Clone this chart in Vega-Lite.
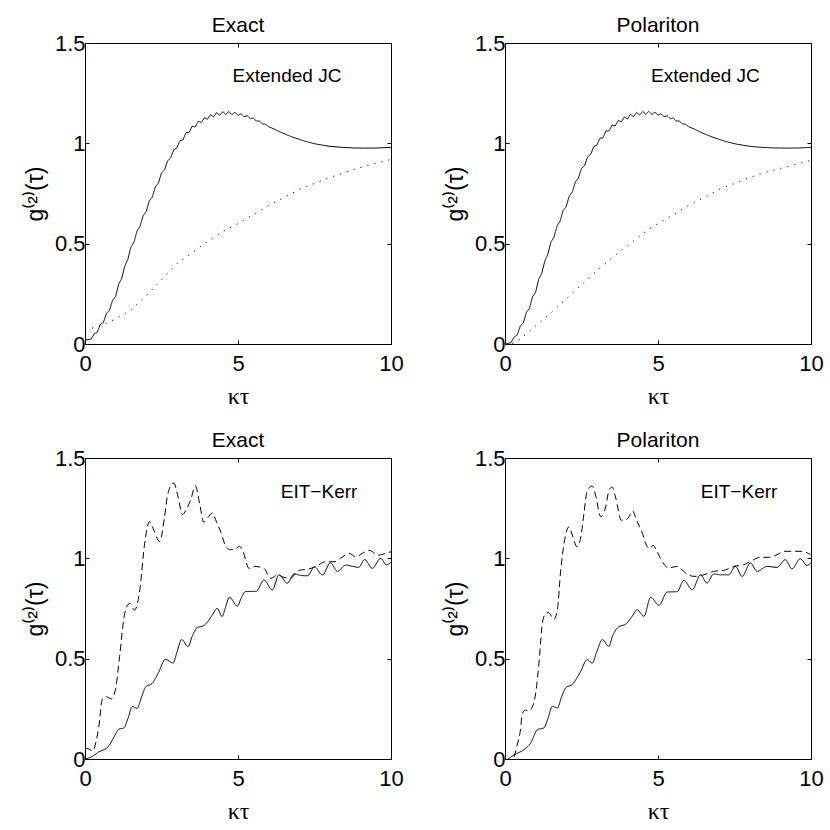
{
  "$schema": "https://vega.github.io/schema/vega-lite/v6.json",
  "padding": {"left": 23, "top": 14, "right": 8, "bottom": 4},
  "background": "white",
  "bounds": "flush",
  "columns": 2,
  "spacing": 114,
  "datasets": {
    "notes": [
      {"panel": "TL", "t": 6.6, "g": 1.335, "label": "Extended JC"},
      {"panel": "TR", "t": 6.55, "g": 1.335, "label": "Extended JC"},
      {"panel": "BL", "t": 7.65, "g": 1.33, "label": "EIT−Kerr"},
      {"panel": "BR", "t": 7.65, "g": 1.33, "label": "EIT−Kerr"}
    ],
    "curves": [
      {"panel": "TL", "series": "solid", "t": 0, "g": 0.02},
      {"panel": "TL", "series": "solid", "t": 0.1, "g": 0.022},
      {"panel": "TL", "series": "solid", "t": 0.2, "g": 0.024},
      {"panel": "TL", "series": "solid", "t": 0.3, "g": 0.051},
      {"panel": "TL", "series": "solid", "t": 0.4, "g": 0.058},
      {"panel": "TL", "series": "solid", "t": 0.5, "g": 0.098},
      {"panel": "TL", "series": "solid", "t": 0.6, "g": 0.107},
      {"panel": "TL", "series": "solid", "t": 0.7, "g": 0.153},
      {"panel": "TL", "series": "solid", "t": 0.8, "g": 0.167},
      {"panel": "TL", "series": "solid", "t": 0.9, "g": 0.218},
      {"panel": "TL", "series": "solid", "t": 1.0, "g": 0.237},
      {"panel": "TL", "series": "solid", "t": 1.1, "g": 0.298},
      {"panel": "TL", "series": "solid", "t": 1.2, "g": 0.327},
      {"panel": "TL", "series": "solid", "t": 1.3, "g": 0.388},
      {"panel": "TL", "series": "solid", "t": 1.4, "g": 0.422},
      {"panel": "TL", "series": "solid", "t": 1.5, "g": 0.483},
      {"panel": "TL", "series": "solid", "t": 1.6, "g": 0.507},
      {"panel": "TL", "series": "solid", "t": 1.7, "g": 0.563},
      {"panel": "TL", "series": "solid", "t": 1.8, "g": 0.587},
      {"panel": "TL", "series": "solid", "t": 1.9, "g": 0.64},
      {"panel": "TL", "series": "solid", "t": 2.0, "g": 0.66},
      {"panel": "TL", "series": "solid", "t": 2.1, "g": 0.713},
      {"panel": "TL", "series": "solid", "t": 2.2, "g": 0.732},
      {"panel": "TL", "series": "solid", "t": 2.3, "g": 0.783},
      {"panel": "TL", "series": "solid", "t": 2.4, "g": 0.802},
      {"panel": "TL", "series": "solid", "t": 2.5, "g": 0.853},
      {"panel": "TL", "series": "solid", "t": 2.6, "g": 0.867},
      {"panel": "TL", "series": "solid", "t": 2.7, "g": 0.913},
      {"panel": "TL", "series": "solid", "t": 2.8, "g": 0.927},
      {"panel": "TL", "series": "solid", "t": 2.9, "g": 0.968},
      {"panel": "TL", "series": "solid", "t": 3.0, "g": 0.977},
      {"panel": "TL", "series": "solid", "t": 3.1, "g": 1.013},
      {"panel": "TL", "series": "solid", "t": 3.2, "g": 1.017},
      {"panel": "TL", "series": "solid", "t": 3.3, "g": 1.053},
      {"panel": "TL", "series": "solid", "t": 3.4, "g": 1.054},
      {"panel": "TL", "series": "solid", "t": 3.5, "g": 1.085},
      {"panel": "TL", "series": "solid", "t": 3.6, "g": 1.082},
      {"panel": "TL", "series": "solid", "t": 3.7, "g": 1.11},
      {"panel": "TL", "series": "solid", "t": 3.8, "g": 1.104},
      {"panel": "TL", "series": "solid", "t": 3.9, "g": 1.128},
      {"panel": "TL", "series": "solid", "t": 4.0, "g": 1.12},
      {"panel": "TL", "series": "solid", "t": 4.1, "g": 1.143},
      {"panel": "TL", "series": "solid", "t": 4.2, "g": 1.132},
      {"panel": "TL", "series": "solid", "t": 4.3, "g": 1.153},
      {"panel": "TL", "series": "solid", "t": 4.4, "g": 1.14},
      {"panel": "TL", "series": "solid", "t": 4.5, "g": 1.158},
      {"panel": "TL", "series": "solid", "t": 4.6, "g": 1.144},
      {"panel": "TL", "series": "solid", "t": 4.7, "g": 1.158},
      {"panel": "TL", "series": "solid", "t": 4.8, "g": 1.143},
      {"panel": "TL", "series": "solid", "t": 4.9, "g": 1.155},
      {"panel": "TL", "series": "solid", "t": 5.0, "g": 1.139},
      {"panel": "TL", "series": "solid", "t": 5.1, "g": 1.148},
      {"panel": "TL", "series": "solid", "t": 5.2, "g": 1.132},
      {"panel": "TL", "series": "solid", "t": 5.3, "g": 1.138},
      {"panel": "TL", "series": "solid", "t": 5.4, "g": 1.123},
      {"panel": "TL", "series": "solid", "t": 5.5, "g": 1.126},
      {"panel": "TL", "series": "solid", "t": 5.6, "g": 1.111},
      {"panel": "TL", "series": "solid", "t": 5.7, "g": 1.111},
      {"panel": "TL", "series": "solid", "t": 5.8, "g": 1.097},
      {"panel": "TL", "series": "solid", "t": 5.9, "g": 1.095},
      {"panel": "TL", "series": "solid", "t": 6.0, "g": 1.083},
      {"panel": "TL", "series": "solid", "t": 6.2, "g": 1.07},
      {"panel": "TL", "series": "solid", "t": 6.4, "g": 1.055},
      {"panel": "TL", "series": "solid", "t": 6.6, "g": 1.042},
      {"panel": "TL", "series": "solid", "t": 6.8, "g": 1.03},
      {"panel": "TL", "series": "solid", "t": 7.0, "g": 1.02},
      {"panel": "TL", "series": "solid", "t": 7.2, "g": 1.01},
      {"panel": "TL", "series": "solid", "t": 7.4, "g": 1.002},
      {"panel": "TL", "series": "solid", "t": 7.6, "g": 0.995},
      {"panel": "TL", "series": "solid", "t": 7.8, "g": 0.99},
      {"panel": "TL", "series": "solid", "t": 8.0, "g": 0.985},
      {"panel": "TL", "series": "solid", "t": 8.4, "g": 0.98},
      {"panel": "TL", "series": "solid", "t": 8.8, "g": 0.977},
      {"panel": "TL", "series": "solid", "t": 9.2, "g": 0.976},
      {"panel": "TL", "series": "solid", "t": 9.6, "g": 0.977},
      {"panel": "TL", "series": "solid", "t": 10, "g": 0.98},
      {"panel": "TL", "series": "dotted", "t": 0, "g": 0.07},
      {"panel": "TL", "series": "dotted", "t": 0.5, "g": 0.09},
      {"panel": "TL", "series": "dotted", "t": 1.0, "g": 0.125},
      {"panel": "TL", "series": "dotted", "t": 1.5, "g": 0.17},
      {"panel": "TL", "series": "dotted", "t": 2.0, "g": 0.24},
      {"panel": "TL", "series": "dotted", "t": 2.5, "g": 0.32},
      {"panel": "TL", "series": "dotted", "t": 3.0, "g": 0.4},
      {"panel": "TL", "series": "dotted", "t": 3.5, "g": 0.455},
      {"panel": "TL", "series": "dotted", "t": 4.0, "g": 0.51},
      {"panel": "TL", "series": "dotted", "t": 4.5, "g": 0.56},
      {"panel": "TL", "series": "dotted", "t": 5.0, "g": 0.6},
      {"panel": "TL", "series": "dotted", "t": 5.5, "g": 0.645},
      {"panel": "TL", "series": "dotted", "t": 6.0, "g": 0.69},
      {"panel": "TL", "series": "dotted", "t": 6.5, "g": 0.73},
      {"panel": "TL", "series": "dotted", "t": 7.0, "g": 0.77},
      {"panel": "TL", "series": "dotted", "t": 7.5, "g": 0.8},
      {"panel": "TL", "series": "dotted", "t": 8.0, "g": 0.83},
      {"panel": "TL", "series": "dotted", "t": 8.5, "g": 0.855},
      {"panel": "TL", "series": "dotted", "t": 9.0, "g": 0.88},
      {"panel": "TL", "series": "dotted", "t": 9.5, "g": 0.9},
      {"panel": "TL", "series": "dotted", "t": 10, "g": 0.92},
      {"panel": "TR", "series": "solid", "t": 0, "g": 0.0},
      {"panel": "TR", "series": "solid", "t": 0.1, "g": 0.002},
      {"panel": "TR", "series": "solid", "t": 0.2, "g": 0.008},
      {"panel": "TR", "series": "solid", "t": 0.3, "g": 0.035},
      {"panel": "TR", "series": "solid", "t": 0.4, "g": 0.045},
      {"panel": "TR", "series": "solid", "t": 0.5, "g": 0.09},
      {"panel": "TR", "series": "solid", "t": 0.6, "g": 0.105},
      {"panel": "TR", "series": "solid", "t": 0.7, "g": 0.158},
      {"panel": "TR", "series": "solid", "t": 0.8, "g": 0.178},
      {"panel": "TR", "series": "solid", "t": 0.9, "g": 0.235},
      {"panel": "TR", "series": "solid", "t": 1.0, "g": 0.258},
      {"panel": "TR", "series": "solid", "t": 1.1, "g": 0.322},
      {"panel": "TR", "series": "solid", "t": 1.2, "g": 0.352},
      {"panel": "TR", "series": "solid", "t": 1.3, "g": 0.413},
      {"panel": "TR", "series": "solid", "t": 1.4, "g": 0.447},
      {"panel": "TR", "series": "solid", "t": 1.5, "g": 0.508},
      {"panel": "TR", "series": "solid", "t": 1.6, "g": 0.532},
      {"panel": "TR", "series": "solid", "t": 1.7, "g": 0.588},
      {"panel": "TR", "series": "solid", "t": 1.8, "g": 0.612},
      {"panel": "TR", "series": "solid", "t": 1.9, "g": 0.665},
      {"panel": "TR", "series": "solid", "t": 2.0, "g": 0.685},
      {"panel": "TR", "series": "solid", "t": 2.1, "g": 0.738},
      {"panel": "TR", "series": "solid", "t": 2.2, "g": 0.757},
      {"panel": "TR", "series": "solid", "t": 2.3, "g": 0.808},
      {"panel": "TR", "series": "solid", "t": 2.4, "g": 0.827},
      {"panel": "TR", "series": "solid", "t": 2.5, "g": 0.875},
      {"panel": "TR", "series": "solid", "t": 2.6, "g": 0.889},
      {"panel": "TR", "series": "solid", "t": 2.7, "g": 0.933},
      {"panel": "TR", "series": "solid", "t": 2.8, "g": 0.945},
      {"panel": "TR", "series": "solid", "t": 2.9, "g": 0.984},
      {"panel": "TR", "series": "solid", "t": 3.0, "g": 0.991},
      {"panel": "TR", "series": "solid", "t": 3.1, "g": 1.025},
      {"panel": "TR", "series": "solid", "t": 3.2, "g": 1.028},
      {"panel": "TR", "series": "solid", "t": 3.3, "g": 1.062},
      {"panel": "TR", "series": "solid", "t": 3.4, "g": 1.062},
      {"panel": "TR", "series": "solid", "t": 3.5, "g": 1.091},
      {"panel": "TR", "series": "solid", "t": 3.6, "g": 1.087},
      {"panel": "TR", "series": "solid", "t": 3.7, "g": 1.114},
      {"panel": "TR", "series": "solid", "t": 3.8, "g": 1.107},
      {"panel": "TR", "series": "solid", "t": 3.9, "g": 1.131},
      {"panel": "TR", "series": "solid", "t": 4.0, "g": 1.122},
      {"panel": "TR", "series": "solid", "t": 4.1, "g": 1.145},
      {"panel": "TR", "series": "solid", "t": 4.2, "g": 1.133},
      {"panel": "TR", "series": "solid", "t": 4.3, "g": 1.154},
      {"panel": "TR", "series": "solid", "t": 4.4, "g": 1.141},
      {"panel": "TR", "series": "solid", "t": 4.5, "g": 1.159},
      {"panel": "TR", "series": "solid", "t": 4.6, "g": 1.145},
      {"panel": "TR", "series": "solid", "t": 4.7, "g": 1.159},
      {"panel": "TR", "series": "solid", "t": 4.8, "g": 1.144},
      {"panel": "TR", "series": "solid", "t": 4.9, "g": 1.156},
      {"panel": "TR", "series": "solid", "t": 5.0, "g": 1.14},
      {"panel": "TR", "series": "solid", "t": 5.1, "g": 1.148},
      {"panel": "TR", "series": "solid", "t": 5.2, "g": 1.132},
      {"panel": "TR", "series": "solid", "t": 5.3, "g": 1.138},
      {"panel": "TR", "series": "solid", "t": 5.4, "g": 1.123},
      {"panel": "TR", "series": "solid", "t": 5.5, "g": 1.126},
      {"panel": "TR", "series": "solid", "t": 5.6, "g": 1.111},
      {"panel": "TR", "series": "solid", "t": 5.7, "g": 1.111},
      {"panel": "TR", "series": "solid", "t": 5.8, "g": 1.097},
      {"panel": "TR", "series": "solid", "t": 5.9, "g": 1.095},
      {"panel": "TR", "series": "solid", "t": 6.0, "g": 1.083},
      {"panel": "TR", "series": "solid", "t": 6.2, "g": 1.07},
      {"panel": "TR", "series": "solid", "t": 6.4, "g": 1.055},
      {"panel": "TR", "series": "solid", "t": 6.6, "g": 1.042},
      {"panel": "TR", "series": "solid", "t": 6.8, "g": 1.03},
      {"panel": "TR", "series": "solid", "t": 7.0, "g": 1.02},
      {"panel": "TR", "series": "solid", "t": 7.2, "g": 1.01},
      {"panel": "TR", "series": "solid", "t": 7.4, "g": 1.002},
      {"panel": "TR", "series": "solid", "t": 7.6, "g": 0.995},
      {"panel": "TR", "series": "solid", "t": 7.8, "g": 0.99},
      {"panel": "TR", "series": "solid", "t": 8.0, "g": 0.985},
      {"panel": "TR", "series": "solid", "t": 8.4, "g": 0.98},
      {"panel": "TR", "series": "solid", "t": 8.8, "g": 0.977},
      {"panel": "TR", "series": "solid", "t": 9.2, "g": 0.976},
      {"panel": "TR", "series": "solid", "t": 9.6, "g": 0.977},
      {"panel": "TR", "series": "solid", "t": 10, "g": 0.98},
      {"panel": "TR", "series": "dotted", "t": 0, "g": 0.0},
      {"panel": "TR", "series": "dotted", "t": 0.3, "g": 0.005},
      {"panel": "TR", "series": "dotted", "t": 0.5, "g": 0.025},
      {"panel": "TR", "series": "dotted", "t": 1.0, "g": 0.09},
      {"panel": "TR", "series": "dotted", "t": 1.5, "g": 0.155},
      {"panel": "TR", "series": "dotted", "t": 2.0, "g": 0.225},
      {"panel": "TR", "series": "dotted", "t": 2.5, "g": 0.295},
      {"panel": "TR", "series": "dotted", "t": 3.0, "g": 0.365},
      {"panel": "TR", "series": "dotted", "t": 3.5, "g": 0.43},
      {"panel": "TR", "series": "dotted", "t": 4.0, "g": 0.49},
      {"panel": "TR", "series": "dotted", "t": 4.5, "g": 0.55},
      {"panel": "TR", "series": "dotted", "t": 5.0, "g": 0.6},
      {"panel": "TR", "series": "dotted", "t": 5.5, "g": 0.645},
      {"panel": "TR", "series": "dotted", "t": 6.0, "g": 0.69},
      {"panel": "TR", "series": "dotted", "t": 6.5, "g": 0.73},
      {"panel": "TR", "series": "dotted", "t": 7.0, "g": 0.77},
      {"panel": "TR", "series": "dotted", "t": 7.5, "g": 0.8},
      {"panel": "TR", "series": "dotted", "t": 8.0, "g": 0.83},
      {"panel": "TR", "series": "dotted", "t": 8.5, "g": 0.855},
      {"panel": "TR", "series": "dotted", "t": 9.0, "g": 0.875},
      {"panel": "TR", "series": "dotted", "t": 9.5, "g": 0.895},
      {"panel": "TR", "series": "dotted", "t": 10, "g": 0.915},
      {"panel": "BL", "series": "solid", "t": 0, "g": 0.0},
      {"panel": "BL", "series": "solid", "t": 0.2, "g": 0.01},
      {"panel": "BL", "series": "solid", "t": 0.45, "g": 0.035},
      {"panel": "BL", "series": "solid", "t": 0.75, "g": 0.06},
      {"panel": "BL", "series": "solid", "t": 0.95, "g": 0.11},
      {"panel": "BL", "series": "solid", "t": 1.1, "g": 0.148},
      {"panel": "BL", "series": "solid", "t": 1.27, "g": 0.155},
      {"panel": "BL", "series": "solid", "t": 1.4, "g": 0.2},
      {"panel": "BL", "series": "solid", "t": 1.55, "g": 0.262},
      {"panel": "BL", "series": "solid", "t": 1.7, "g": 0.252},
      {"panel": "BL", "series": "solid", "t": 1.85, "g": 0.31},
      {"panel": "BL", "series": "solid", "t": 1.98, "g": 0.358},
      {"panel": "BL", "series": "solid", "t": 2.2, "g": 0.378},
      {"panel": "BL", "series": "solid", "t": 2.4, "g": 0.43},
      {"panel": "BL", "series": "solid", "t": 2.63, "g": 0.497},
      {"panel": "BL", "series": "solid", "t": 2.88, "g": 0.478},
      {"panel": "BL", "series": "solid", "t": 3.0, "g": 0.53},
      {"panel": "BL", "series": "solid", "t": 3.16, "g": 0.595},
      {"panel": "BL", "series": "solid", "t": 3.37, "g": 0.56},
      {"panel": "BL", "series": "solid", "t": 3.5, "g": 0.61},
      {"panel": "BL", "series": "solid", "t": 3.67, "g": 0.655},
      {"panel": "BL", "series": "solid", "t": 3.85, "g": 0.662},
      {"panel": "BL", "series": "solid", "t": 4.0, "g": 0.682},
      {"panel": "BL", "series": "solid", "t": 4.15, "g": 0.715},
      {"panel": "BL", "series": "solid", "t": 4.32, "g": 0.75},
      {"panel": "BL", "series": "solid", "t": 4.48, "g": 0.71},
      {"panel": "BL", "series": "solid", "t": 4.6, "g": 0.76},
      {"panel": "BL", "series": "solid", "t": 4.72, "g": 0.806},
      {"panel": "BL", "series": "solid", "t": 4.98, "g": 0.762},
      {"panel": "BL", "series": "solid", "t": 5.1, "g": 0.8},
      {"panel": "BL", "series": "solid", "t": 5.24, "g": 0.834},
      {"panel": "BL", "series": "solid", "t": 5.4, "g": 0.835},
      {"panel": "BL", "series": "solid", "t": 5.6, "g": 0.836},
      {"panel": "BL", "series": "solid", "t": 5.85, "g": 0.892},
      {"panel": "BL", "series": "solid", "t": 6.12, "g": 0.843},
      {"panel": "BL", "series": "solid", "t": 6.34, "g": 0.918},
      {"panel": "BL", "series": "solid", "t": 6.61, "g": 0.876},
      {"panel": "BL", "series": "solid", "t": 6.83, "g": 0.922},
      {"panel": "BL", "series": "solid", "t": 7.05, "g": 0.915},
      {"panel": "BL", "series": "solid", "t": 7.27, "g": 0.913},
      {"panel": "BL", "series": "solid", "t": 7.5, "g": 0.958},
      {"panel": "BL", "series": "solid", "t": 7.76, "g": 0.917},
      {"panel": "BL", "series": "solid", "t": 8.02, "g": 0.978},
      {"panel": "BL", "series": "solid", "t": 8.25, "g": 0.935},
      {"panel": "BL", "series": "solid", "t": 8.52, "g": 0.966},
      {"panel": "BL", "series": "solid", "t": 8.75, "g": 0.96},
      {"panel": "BL", "series": "solid", "t": 8.94, "g": 0.955},
      {"panel": "BL", "series": "solid", "t": 9.14, "g": 0.994},
      {"panel": "BL", "series": "solid", "t": 9.39, "g": 0.95},
      {"panel": "BL", "series": "solid", "t": 9.66, "g": 1.0},
      {"panel": "BL", "series": "solid", "t": 9.85, "g": 0.968},
      {"panel": "BL", "series": "solid", "t": 10, "g": 0.98},
      {"panel": "BL", "series": "dashed", "t": 0, "g": 0.055},
      {"panel": "BL", "series": "dashed", "t": 0.12, "g": 0.05},
      {"panel": "BL", "series": "dashed", "t": 0.25, "g": 0.04},
      {"panel": "BL", "series": "dashed", "t": 0.35, "g": 0.08},
      {"panel": "BL", "series": "dashed", "t": 0.45, "g": 0.16},
      {"panel": "BL", "series": "dashed", "t": 0.57, "g": 0.3},
      {"panel": "BL", "series": "dashed", "t": 0.7, "g": 0.31},
      {"panel": "BL", "series": "dashed", "t": 0.86, "g": 0.3},
      {"panel": "BL", "series": "dashed", "t": 1.0, "g": 0.35},
      {"panel": "BL", "series": "dashed", "t": 1.13, "g": 0.51},
      {"panel": "BL", "series": "dashed", "t": 1.3, "g": 0.726},
      {"panel": "BL", "series": "dashed", "t": 1.46, "g": 0.776},
      {"panel": "BL", "series": "dashed", "t": 1.62, "g": 0.742},
      {"panel": "BL", "series": "dashed", "t": 1.79, "g": 0.842},
      {"panel": "BL", "series": "dashed", "t": 1.95, "g": 1.075},
      {"panel": "BL", "series": "dashed", "t": 2.11, "g": 1.183},
      {"panel": "BL", "series": "dashed", "t": 2.25, "g": 1.14},
      {"panel": "BL", "series": "dashed", "t": 2.44, "g": 1.083},
      {"panel": "BL", "series": "dashed", "t": 2.6, "g": 1.207},
      {"panel": "BL", "series": "dashed", "t": 2.71, "g": 1.324},
      {"panel": "BL", "series": "dashed", "t": 2.9, "g": 1.375},
      {"panel": "BL", "series": "dashed", "t": 3.05, "g": 1.3},
      {"panel": "BL", "series": "dashed", "t": 3.18, "g": 1.218},
      {"panel": "BL", "series": "dashed", "t": 3.3, "g": 1.24},
      {"panel": "BL", "series": "dashed", "t": 3.45, "g": 1.29},
      {"panel": "BL", "series": "dashed", "t": 3.61, "g": 1.36},
      {"panel": "BL", "series": "dashed", "t": 3.75, "g": 1.27},
      {"panel": "BL", "series": "dashed", "t": 3.88, "g": 1.18},
      {"panel": "BL", "series": "dashed", "t": 4.0, "g": 1.2},
      {"panel": "BL", "series": "dashed", "t": 4.16, "g": 1.226},
      {"panel": "BL", "series": "dashed", "t": 4.3, "g": 1.18},
      {"panel": "BL", "series": "dashed", "t": 4.43, "g": 1.135},
      {"panel": "BL", "series": "dashed", "t": 4.6, "g": 1.06},
      {"panel": "BL", "series": "dashed", "t": 4.75, "g": 1.043},
      {"panel": "BL", "series": "dashed", "t": 4.9, "g": 1.045},
      {"panel": "BL", "series": "dashed", "t": 5.05, "g": 1.06},
      {"panel": "BL", "series": "dashed", "t": 5.15, "g": 1.04},
      {"panel": "BL", "series": "dashed", "t": 5.36, "g": 0.95},
      {"panel": "BL", "series": "dashed", "t": 5.53, "g": 0.96},
      {"panel": "BL", "series": "dashed", "t": 5.7, "g": 0.957},
      {"panel": "BL", "series": "dashed", "t": 5.85, "g": 0.95},
      {"panel": "BL", "series": "dashed", "t": 6.07, "g": 0.9},
      {"panel": "BL", "series": "dashed", "t": 6.29, "g": 0.917},
      {"panel": "BL", "series": "dashed", "t": 6.5, "g": 0.905},
      {"panel": "BL", "series": "dashed", "t": 6.72, "g": 0.9},
      {"panel": "BL", "series": "dashed", "t": 6.9, "g": 0.93},
      {"panel": "BL", "series": "dashed", "t": 7.05, "g": 0.942},
      {"panel": "BL", "series": "dashed", "t": 7.27, "g": 0.945},
      {"panel": "BL", "series": "dashed", "t": 7.55, "g": 0.96},
      {"panel": "BL", "series": "dashed", "t": 7.86, "g": 0.983},
      {"panel": "BL", "series": "dashed", "t": 8.14, "g": 0.983},
      {"panel": "BL", "series": "dashed", "t": 8.35, "g": 1.0},
      {"panel": "BL", "series": "dashed", "t": 8.63, "g": 1.025},
      {"panel": "BL", "series": "dashed", "t": 8.85, "g": 1.008},
      {"panel": "BL", "series": "dashed", "t": 9.07, "g": 1.025},
      {"panel": "BL", "series": "dashed", "t": 9.28, "g": 1.04},
      {"panel": "BL", "series": "dashed", "t": 9.6, "g": 1.016},
      {"panel": "BL", "series": "dashed", "t": 9.82, "g": 1.025},
      {"panel": "BL", "series": "dashed", "t": 10, "g": 1.033},
      {"panel": "BR", "series": "solid", "t": 0.1, "g": 0.0},
      {"panel": "BR", "series": "solid", "t": 0.29, "g": 0.02},
      {"panel": "BR", "series": "solid", "t": 0.62, "g": 0.047},
      {"panel": "BR", "series": "solid", "t": 0.84, "g": 0.08},
      {"panel": "BR", "series": "solid", "t": 1.06, "g": 0.146},
      {"panel": "BR", "series": "solid", "t": 1.27, "g": 0.155},
      {"panel": "BR", "series": "solid", "t": 1.4, "g": 0.2},
      {"panel": "BR", "series": "solid", "t": 1.55, "g": 0.262},
      {"panel": "BR", "series": "solid", "t": 1.71, "g": 0.254},
      {"panel": "BR", "series": "solid", "t": 1.85, "g": 0.31},
      {"panel": "BR", "series": "solid", "t": 1.98, "g": 0.354},
      {"panel": "BR", "series": "solid", "t": 2.2, "g": 0.372},
      {"panel": "BR", "series": "solid", "t": 2.45, "g": 0.43},
      {"panel": "BR", "series": "solid", "t": 2.69, "g": 0.495},
      {"panel": "BR", "series": "solid", "t": 2.85, "g": 0.478},
      {"panel": "BR", "series": "solid", "t": 3.0, "g": 0.535},
      {"panel": "BR", "series": "solid", "t": 3.18, "g": 0.595},
      {"panel": "BR", "series": "solid", "t": 3.39, "g": 0.561},
      {"panel": "BR", "series": "solid", "t": 3.52, "g": 0.615},
      {"panel": "BR", "series": "solid", "t": 3.67, "g": 0.653},
      {"panel": "BR", "series": "solid", "t": 3.99, "g": 0.678},
      {"panel": "BR", "series": "solid", "t": 4.15, "g": 0.71},
      {"panel": "BR", "series": "solid", "t": 4.32, "g": 0.744},
      {"panel": "BR", "series": "solid", "t": 4.54, "g": 0.711},
      {"panel": "BR", "series": "solid", "t": 4.76, "g": 0.806},
      {"panel": "BR", "series": "solid", "t": 5.03, "g": 0.766},
      {"panel": "BR", "series": "solid", "t": 5.3, "g": 0.832},
      {"panel": "BR", "series": "solid", "t": 5.63, "g": 0.834},
      {"panel": "BR", "series": "solid", "t": 5.84, "g": 0.89},
      {"panel": "BR", "series": "solid", "t": 6.12, "g": 0.844},
      {"panel": "BR", "series": "solid", "t": 6.39, "g": 0.918},
      {"panel": "BR", "series": "solid", "t": 6.6, "g": 0.877},
      {"panel": "BR", "series": "solid", "t": 6.82, "g": 0.922},
      {"panel": "BR", "series": "solid", "t": 7.05, "g": 0.918},
      {"panel": "BR", "series": "solid", "t": 7.31, "g": 0.918},
      {"panel": "BR", "series": "solid", "t": 7.53, "g": 0.96},
      {"panel": "BR", "series": "solid", "t": 7.75, "g": 0.91},
      {"panel": "BR", "series": "solid", "t": 8.02, "g": 0.977},
      {"panel": "BR", "series": "solid", "t": 8.24, "g": 0.935},
      {"panel": "BR", "series": "solid", "t": 8.56, "g": 0.96},
      {"panel": "BR", "series": "solid", "t": 8.89, "g": 0.955},
      {"panel": "BR", "series": "solid", "t": 9.16, "g": 0.993},
      {"panel": "BR", "series": "solid", "t": 9.38, "g": 0.948},
      {"panel": "BR", "series": "solid", "t": 9.65, "g": 0.998},
      {"panel": "BR", "series": "solid", "t": 9.87, "g": 0.965},
      {"panel": "BR", "series": "solid", "t": 10, "g": 0.977},
      {"panel": "BR", "series": "dashed", "t": 0.3, "g": 0.01},
      {"panel": "BR", "series": "dashed", "t": 0.4, "g": 0.07},
      {"panel": "BR", "series": "dashed", "t": 0.5, "g": 0.14},
      {"panel": "BR", "series": "dashed", "t": 0.57, "g": 0.228},
      {"panel": "BR", "series": "dashed", "t": 0.68, "g": 0.244},
      {"panel": "BR", "series": "dashed", "t": 0.78, "g": 0.24},
      {"panel": "BR", "series": "dashed", "t": 0.95, "g": 0.285},
      {"panel": "BR", "series": "dashed", "t": 1.11, "g": 0.477},
      {"panel": "BR", "series": "dashed", "t": 1.22, "g": 0.676},
      {"panel": "BR", "series": "dashed", "t": 1.33, "g": 0.726},
      {"panel": "BR", "series": "dashed", "t": 1.42, "g": 0.73},
      {"panel": "BR", "series": "dashed", "t": 1.6, "g": 0.696},
      {"panel": "BR", "series": "dashed", "t": 1.71, "g": 0.742},
      {"panel": "BR", "series": "dashed", "t": 1.82, "g": 0.94},
      {"panel": "BR", "series": "dashed", "t": 1.93, "g": 1.075},
      {"panel": "BR", "series": "dashed", "t": 2.09, "g": 1.157},
      {"panel": "BR", "series": "dashed", "t": 2.2, "g": 1.116},
      {"panel": "BR", "series": "dashed", "t": 2.35, "g": 1.058},
      {"panel": "BR", "series": "dashed", "t": 2.47, "g": 1.1},
      {"panel": "BR", "series": "dashed", "t": 2.58, "g": 1.224},
      {"panel": "BR", "series": "dashed", "t": 2.69, "g": 1.34},
      {"panel": "BR", "series": "dashed", "t": 2.85, "g": 1.36},
      {"panel": "BR", "series": "dashed", "t": 2.96, "g": 1.315},
      {"panel": "BR", "series": "dashed", "t": 3.13, "g": 1.207},
      {"panel": "BR", "series": "dashed", "t": 3.29, "g": 1.257},
      {"panel": "BR", "series": "dashed", "t": 3.4, "g": 1.34},
      {"panel": "BR", "series": "dashed", "t": 3.5, "g": 1.355},
      {"panel": "BR", "series": "dashed", "t": 3.62, "g": 1.3},
      {"panel": "BR", "series": "dashed", "t": 3.8, "g": 1.19},
      {"panel": "BR", "series": "dashed", "t": 3.92, "g": 1.19},
      {"panel": "BR", "series": "dashed", "t": 4.05, "g": 1.207},
      {"panel": "BR", "series": "dashed", "t": 4.16, "g": 1.237},
      {"panel": "BR", "series": "dashed", "t": 4.32, "g": 1.182},
      {"panel": "BR", "series": "dashed", "t": 4.49, "g": 1.125},
      {"panel": "BR", "series": "dashed", "t": 4.65, "g": 1.058},
      {"panel": "BR", "series": "dashed", "t": 4.76, "g": 1.05},
      {"panel": "BR", "series": "dashed", "t": 4.84, "g": 1.065},
      {"panel": "BR", "series": "dashed", "t": 4.95, "g": 1.04},
      {"panel": "BR", "series": "dashed", "t": 5.08, "g": 1.0},
      {"panel": "BR", "series": "dashed", "t": 5.35, "g": 0.952},
      {"panel": "BR", "series": "dashed", "t": 5.63, "g": 0.96},
      {"panel": "BR", "series": "dashed", "t": 5.9, "g": 0.927},
      {"panel": "BR", "series": "dashed", "t": 6.17, "g": 0.91},
      {"panel": "BR", "series": "dashed", "t": 6.5, "g": 0.918},
      {"panel": "BR", "series": "dashed", "t": 6.82, "g": 0.935},
      {"panel": "BR", "series": "dashed", "t": 7.15, "g": 0.94},
      {"panel": "BR", "series": "dashed", "t": 7.48, "g": 0.96},
      {"panel": "BR", "series": "dashed", "t": 7.8, "g": 0.968},
      {"panel": "BR", "series": "dashed", "t": 8.02, "g": 0.985},
      {"panel": "BR", "series": "dashed", "t": 8.35, "g": 1.005},
      {"panel": "BR", "series": "dashed", "t": 8.62, "g": 1.005},
      {"panel": "BR", "series": "dashed", "t": 8.89, "g": 1.018},
      {"panel": "BR", "series": "dashed", "t": 9.11, "g": 1.035},
      {"panel": "BR", "series": "dashed", "t": 9.43, "g": 1.035},
      {"panel": "BR", "series": "dashed", "t": 9.71, "g": 1.035},
      {"panel": "BR", "series": "dashed", "t": 9.98, "g": 1.018}
    ]
  },
  "concat": [
    {
      "title": "Exact",
      "width": 306,
      "height": 301,
      "resolve": {"axis": {"x": "independent", "y": "independent"}},
      "layer": [
        {
          "data": {"name": "curves"},
          "transform": [{"filter": "datum.panel == 'TL'"}],
          "mark": {"type": "line", "color": "black", "strokeWidth": 1},
          "encoding": {
            "x": {"field": "t", "type": "quantitative", "scale": {"domain": [0, 10], "nice": false}, "axis": {"values": [0, 5, 10], "title": "κτ", "titleFont": "Liberation Serif"}},
            "y": {"field": "g", "type": "quantitative", "scale": {"domain": [0, 1.5], "nice": false}, "axis": {"values": [0, 0.5, 1, 1.5], "format": "~g", "title": "g⁽²⁾(τ)"}},
            "strokeDash": {"field": "series", "type": "nominal", "scale": {"domain": ["solid", "dotted", "dashed"], "range": [[1, 0], [1.2, 6], [7, 4]]}, "legend": null}
          }
        },
        {
          "data": {"name": "notes"},
          "transform": [{"filter": "datum.panel == 'TL'"}],
          "mark": {"type": "text", "fontSize": 19},
          "encoding": {
            "x": {"field": "t", "type": "quantitative", "scale": {"domain": [0, 10], "nice": false}, "axis": {"orient": "top", "values": [0, 5, 10], "labels": false, "title": null, "domain": false}},
            "y": {"field": "g", "type": "quantitative", "scale": {"domain": [0, 1.5], "nice": false}, "axis": {"orient": "right", "values": [0, 0.5, 1, 1.5], "labels": false, "title": null, "domain": false}},
            "text": {"field": "label"}
          }
        }
      ]
    },
    {
      "title": "Polariton",
      "width": 306,
      "height": 301,
      "resolve": {"axis": {"x": "independent", "y": "independent"}},
      "layer": [
        {
          "data": {"name": "curves"},
          "transform": [{"filter": "datum.panel == 'TR'"}],
          "mark": {"type": "line", "color": "black", "strokeWidth": 1},
          "encoding": {
            "x": {"field": "t", "type": "quantitative", "scale": {"domain": [0, 10], "nice": false}, "axis": {"values": [0, 5, 10], "title": "κτ", "titleFont": "Liberation Serif"}},
            "y": {"field": "g", "type": "quantitative", "scale": {"domain": [0, 1.5], "nice": false}, "axis": {"values": [0, 0.5, 1, 1.5], "format": "~g", "title": "g⁽²⁾(τ)"}},
            "strokeDash": {"field": "series", "type": "nominal", "scale": {"domain": ["solid", "dotted", "dashed"], "range": [[1, 0], [1.2, 6], [7, 4]]}, "legend": null}
          }
        },
        {
          "data": {"name": "notes"},
          "transform": [{"filter": "datum.panel == 'TR'"}],
          "mark": {"type": "text", "fontSize": 19},
          "encoding": {
            "x": {"field": "t", "type": "quantitative", "scale": {"domain": [0, 10], "nice": false}, "axis": {"orient": "top", "values": [0, 5, 10], "labels": false, "title": null, "domain": false}},
            "y": {"field": "g", "type": "quantitative", "scale": {"domain": [0, 1.5], "nice": false}, "axis": {"orient": "right", "values": [0, 0.5, 1, 1.5], "labels": false, "title": null, "domain": false}},
            "text": {"field": "label"}
          }
        }
      ]
    },
    {
      "title": "Exact",
      "width": 306,
      "height": 301,
      "resolve": {"axis": {"x": "independent", "y": "independent"}},
      "layer": [
        {
          "data": {"name": "curves"},
          "transform": [{"filter": "datum.panel == 'BL'"}],
          "mark": {"type": "line", "color": "black", "strokeWidth": 1, "interpolate": "monotone"},
          "encoding": {
            "x": {"field": "t", "type": "quantitative", "scale": {"domain": [0, 10], "nice": false}, "axis": {"values": [0, 5, 10], "title": "κτ", "titleFont": "Liberation Serif"}},
            "y": {"field": "g", "type": "quantitative", "scale": {"domain": [0, 1.5], "nice": false}, "axis": {"values": [0, 0.5, 1, 1.5], "format": "~g", "title": "g⁽²⁾(τ)"}},
            "strokeDash": {"field": "series", "type": "nominal", "scale": {"domain": ["solid", "dotted", "dashed"], "range": [[1, 0], [1.2, 6], [7, 4]]}, "legend": null}
          }
        },
        {
          "data": {"name": "notes"},
          "transform": [{"filter": "datum.panel == 'BL'"}],
          "mark": {"type": "text", "fontSize": 19},
          "encoding": {
            "x": {"field": "t", "type": "quantitative", "scale": {"domain": [0, 10], "nice": false}, "axis": {"orient": "top", "values": [0, 5, 10], "labels": false, "title": null, "domain": false}},
            "y": {"field": "g", "type": "quantitative", "scale": {"domain": [0, 1.5], "nice": false}, "axis": {"orient": "right", "values": [0, 0.5, 1, 1.5], "labels": false, "title": null, "domain": false}},
            "text": {"field": "label"}
          }
        }
      ]
    },
    {
      "title": "Polariton",
      "width": 306,
      "height": 301,
      "resolve": {"axis": {"x": "independent", "y": "independent"}},
      "layer": [
        {
          "data": {"name": "curves"},
          "transform": [{"filter": "datum.panel == 'BR'"}],
          "mark": {"type": "line", "color": "black", "strokeWidth": 1, "interpolate": "monotone"},
          "encoding": {
            "x": {"field": "t", "type": "quantitative", "scale": {"domain": [0, 10], "nice": false}, "axis": {"values": [0, 5, 10], "title": "κτ", "titleFont": "Liberation Serif"}},
            "y": {"field": "g", "type": "quantitative", "scale": {"domain": [0, 1.5], "nice": false}, "axis": {"values": [0, 0.5, 1, 1.5], "format": "~g", "title": "g⁽²⁾(τ)"}},
            "strokeDash": {"field": "series", "type": "nominal", "scale": {"domain": ["solid", "dotted", "dashed"], "range": [[1, 0], [1.2, 6], [7, 4]]}, "legend": null}
          }
        },
        {
          "data": {"name": "notes"},
          "transform": [{"filter": "datum.panel == 'BR'"}],
          "mark": {"type": "text", "fontSize": 19},
          "encoding": {
            "x": {"field": "t", "type": "quantitative", "scale": {"domain": [0, 10], "nice": false}, "axis": {"orient": "top", "values": [0, 5, 10], "labels": false, "title": null, "domain": false}},
            "y": {"field": "g", "type": "quantitative", "scale": {"domain": [0, 1.5], "nice": false}, "axis": {"orient": "right", "values": [0, 0.5, 1, 1.5], "labels": false, "title": null, "domain": false}},
            "text": {"field": "label"}
          }
        }
      ]
    }
  ],
  "config": {
    "font": "Liberation Sans",
    "view": {"stroke": "black", "strokeWidth": 1},
    "axis": {
      "grid": false,
      "domainColor": "black",
      "tickColor": "black",
      "labelColor": "black",
      "titleColor": "black",
      "labelFontSize": 22,
      "titleFontSize": 23,
      "titleFontWeight": "normal",
      "tickSize": -4,
      "labelFlush": false
    },
    "axisX": {"labelPadding": 13, "titlePadding": 10, "titleFontSize": 24},
    "axisY": {"labelPadding": 4, "titlePadding": 7},
    "title": {"fontSize": 21, "fontWeight": "normal", "offset": -4, "color": "black"}
  }
}
